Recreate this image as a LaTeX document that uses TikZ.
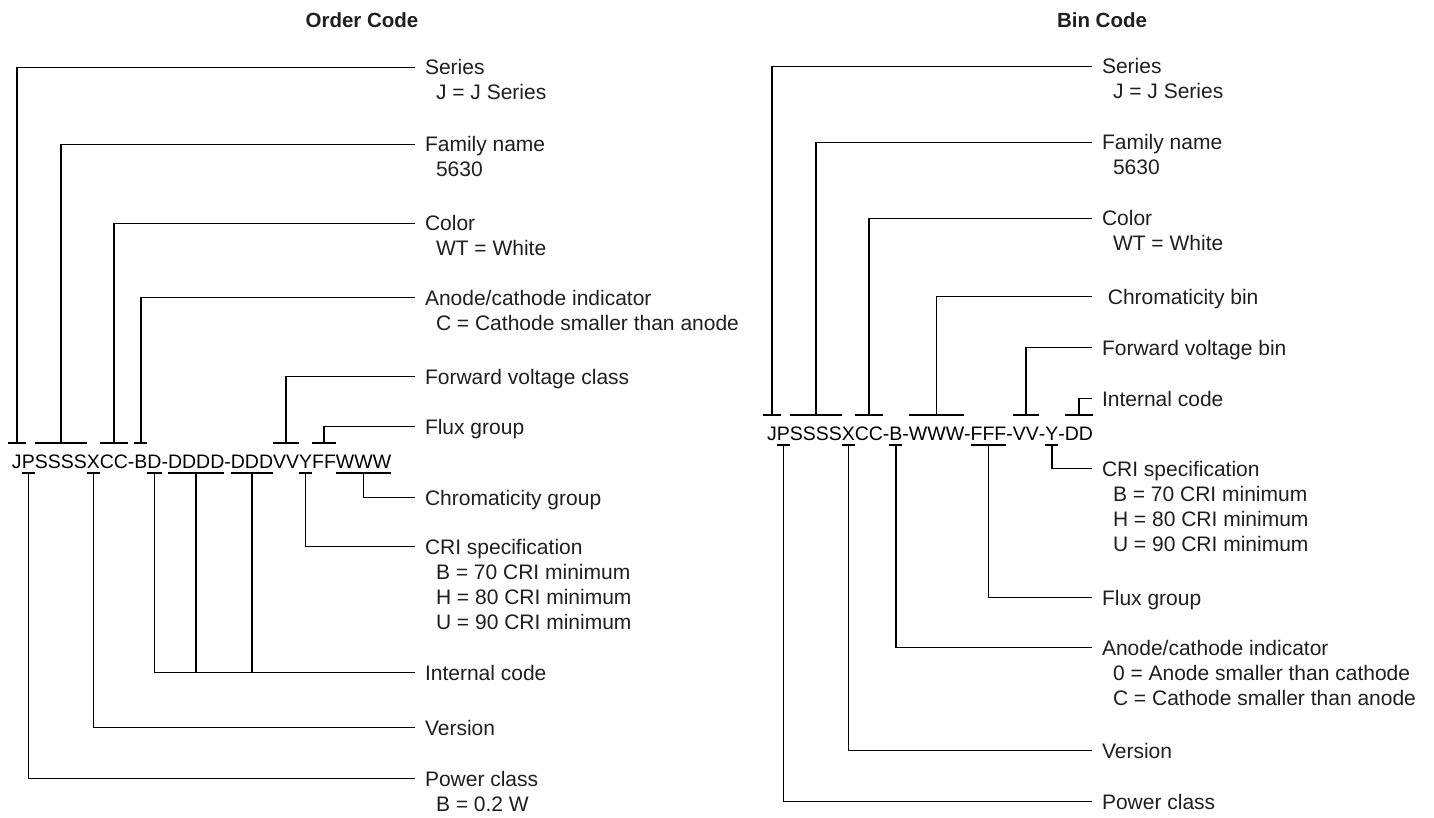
\documentclass[tikz,border=0pt]{standalone}
\usepackage{fontspec}
\setmainfont{Liberation Sans}
\usetikzlibrary{calc}
\newcommand{\lblfont}{\fontsize{21}{25}\selectfont}
\newcommand{\codefont}{\fontsize{19.5}{24}\selectfont}
\newcommand{\lbl}[4]{\node[hdr] (#1) at (#2,#3) {#4};
  \coordinate (#1-e) at ([xshift=-10.5pt,yshift=7.5pt]#1.base west);}
\newcommand{\detline}[4]{\node[hdr] (#1) at (#2,#3) {#4};}
\newcommand{\tickup}[3][0pt]{%
  \draw ([xshift=-#1,yshift=11pt]#2.north west) -- ([xshift=#1,yshift=11pt]#2.north east);
  \draw ([yshift=11pt]#2.north) |- (#3-e);}
\newcommand{\tickdn}[3][0pt]{%
  \draw ([xshift=-#1,yshift=-5pt]#2.south west) -- ([xshift=#1,yshift=-5pt]#2.south east);
  \draw ([yshift=-5pt]#2.south) |- (#3-e);}
\begin{document}
\begin{tikzpicture}[x=1pt,y=-1pt,line width=1.5pt,
  seg/.style={inner sep=0pt,outer sep=0pt,font=\codefont,anchor=base west,text height=14pt,text depth=0pt},
  hdr/.style={inner sep=0pt,outer sep=0pt,font=\lblfont,anchor=base west,text=black!88},
  ttl/.style={inner sep=0pt,text=black!88,font=\fontsize{20.5}{24}\selectfont\bfseries}]
\fill[white] (0,0) rectangle (1434,818);
\useasboundingbox (0,0) rectangle (1434,818);

\node[ttl] (t1) at (362,20) {Order Code};
\node[ttl] (t2) at (1102,20) {Bin Code};

% ---------- left code ----------
\node[seg] (lJ) at (12,468) {J};
\node[seg] (lP) at (lJ.base east) {P};
\node[seg] (lS) at (lP.base east) {SSSS};
\node[seg] (lX) at (lS.base east) {X};
\node[seg] (lC) at (lX.base east) {CC};
\node[seg] (lh1) at (lC.base east) {-};
\node[seg] (lB) at (lh1.base east) {B};
\node[seg] (lD) at (lB.base east) {D};
\node[seg] (lh2) at (lD.base east) {-};
\node[seg] (lD4) at (lh2.base east) {DDDD};
\node[seg] (lh3) at (lD4.base east) {-};
\node[seg] (lD3) at (lh3.base east) {DDD};
\node[seg] (lV) at (lD3.base east) {VV};
\node[seg] (lY) at (lV.base east) {Y};
\node[seg] (lF) at (lY.base east) {FF};
\node[seg] (lW) at (lF.base east) {WWW};

% ---------- left labels ----------
\lbl{ls}{425}{75}{Series}
\detline{ls1}{436}{100}{J = J Series}
\lbl{lf}{425}{152}{Family name}
\detline{lf1}{436}{177}{5630}
\lbl{lc}{425}{231}{Color}
\detline{lc1}{436}{256}{WT = White}
\lbl{la}{425}{305}{Anode/cathode indicator}
\detline{la1}{436}{330}{C = Cathode smaller than anode}
\lbl{lv}{425}{384}{Forward voltage class}
\lbl{lfl}{425}{434}{Flux group}
\lbl{lch}{425}{505}{Chromaticity group}
\lbl{lcri}{425}{554}{CRI specification}
\detline{lcri1}{436}{579}{B = 70 CRI minimum}
\detline{lcri2}{436}{604}{H = 80 CRI minimum}
\detline{lcri3}{436}{629}{U = 90 CRI minimum}
\lbl{lin}{425}{680}{Internal code}
\lbl{lver}{425}{735}{Version}
\lbl{lpow}{425}{786}{Power class}
\detline{lpow1}{436}{811}{B = 0.2 W}

% ---------- left connectors ----------
\tickup[4pt]{lJ}{ls}
\tickup{lS}{lf}
\tickup{lC}{lc}
\tickup{lB}{la}
\tickup{lV}{lv}
\tickup{lF}{lfl}
\tickdn{lW}{lch}
\tickdn{lY}{lcri}
\tickdn{lD}{lin}
\tickdn{lD4}{lin}
\tickdn{lD3}{lin}
\tickdn{lX}{lver}
\tickdn{lP}{lpow}

% ---------- right code ----------
\node[seg] (rJ) at (767,440) {J};
\node[seg] (rP) at (rJ.base east) {P};
\node[seg] (rS) at (rP.base east) {SSSS};
\node[seg] (rX) at (rS.base east) {X};
\node[seg] (rC) at (rX.base east) {CC};
\node[seg] (rh1) at (rC.base east) {-};
\node[seg] (rB) at (rh1.base east) {B};
\node[seg] (rh2) at (rB.base east) {-};
\node[seg] (rW) at (rh2.base east) {WWW};
\node[seg] (rh3) at (rW.base east) {-};
\node[seg] (rF) at (rh3.base east) {FFF};
\node[seg] (rh4) at (rF.base east) {-};
\node[seg] (rV) at (rh4.base east) {VV};
\node[seg] (rh5) at (rV.base east) {-};
\node[seg] (rY) at (rh5.base east) {Y};
\node[seg] (rh6) at (rY.base east) {-};
\node[seg] (rDD) at (rh6.base east) {DD};

% ---------- right labels ----------
\lbl{rs}{1102}{74}{Series}
\detline{rs1}{1113}{99}{J = J Series}
\lbl{rf}{1102}{150}{Family name}
\detline{rf1}{1113}{175}{5630}
\lbl{rc}{1102}{226}{Color}
\detline{rc1}{1113}{251}{WT = White}
\lbl{rch}{1102}{304}{\ Chromaticity bin}
\lbl{rv}{1102}{355}{Forward voltage bin}
\lbl{rin}{1102}{406}{Internal code}
\lbl{rcri}{1102}{476}{CRI specification}
\detline{rcri1}{1113}{501}{B = 70 CRI minimum}
\detline{rcri2}{1113}{526}{H = 80 CRI minimum}
\detline{rcri3}{1113}{551}{U = 90 CRI minimum}
\lbl{rfl}{1102}{605}{Flux group}
\lbl{ra}{1102}{655}{Anode/cathode indicator}
\detline{ra1}{1113}{680}{0 = Anode smaller than cathode}
\detline{ra2}{1113}{705}{C = Cathode smaller than anode}
\lbl{rver}{1102}{758}{Version}
\lbl{rpow}{1102}{809}{Power class}

% ---------- right connectors ----------
\tickup[4pt]{rJ}{rs}
\tickup{rS}{rf}
\tickup{rC}{rc}
\tickup{rW}{rch}
\tickup{rV}{rv}
\tickup{rDD}{rin}
\tickdn{rY}{rcri}
\tickdn{rF}{rfl}
\tickdn{rB}{ra}
\tickdn{rX}{rver}
\tickdn{rP}{rpow}
\end{tikzpicture}
\end{document}
